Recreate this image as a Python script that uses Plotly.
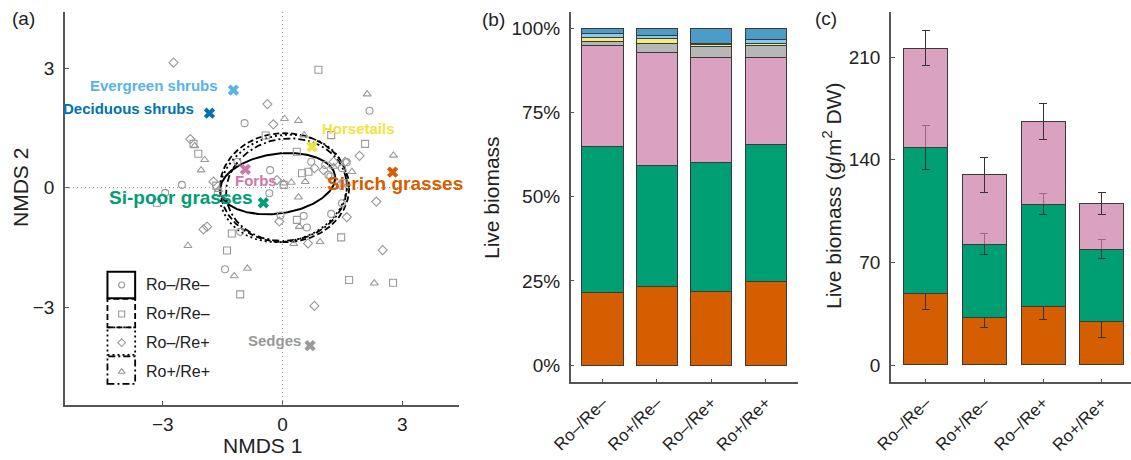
import numpy as np
import plotly.graph_objects as go

FONT = "Liberation Sans, Arial, Helvetica, sans-serif"
AXIS_COLOR = "#555555"
TEXT_COLOR = "#222222"

# ---------------- (a) NMDS ordination ----------------
species = ["Evergreen shrubs", "Deciduous shrubs", "Horsetails", "Si-rich grasses",
           "Forbs", "Si-poor grasses", "Sedges"]
species_x = [-1.23, -1.83, 0.74, 2.76, -0.93, -0.48, 0.69]
species_y = [2.45, 1.87, 1.03, 0.39, 0.46, -0.38, -3.97]
species_colors = ["#56B4E9", "#0072B2", "#F0E442", "#D55E00", "#CC79A7", "#009E73", "#999999"]

treatments = ["Ro\u2013/Re\u2013", "Ro+/Re\u2013", "Ro\u2013/Re+", "Ro+/Re+"]
treatment_symbols = ["circle-open", "square-open", "diamond-open", "triangle-up-open"]
treatment_dash = ["solid", "6px,3px", "2px,3px", "7px,3px,2px,3px"]

# plot scores per treatment
ro0re0_x = [2.18, -0.95, -2.52, -2.94, -0.31, -0.33, 0.72, 1.07, 1.15, 1.49, 1.61, 1.20,
            0.53, 0.61, 1.22, 1.49, -1.06, -1.44, -1.13, -0.05]
ro0re0_y = [1.93, 1.62, 0.07, -0.13, 0.44, -0.14, 0.65, 0.57, 0.32, 0.49, 0.64, 0.28,
            -0.71, -1.00, -0.66, -0.39, -1.11, -2.05, 0.65, -0.70]
ro1re0_x = [0.90, -2.23, -2.11, -0.42, 1.22, 2.07, -3.15, 0.03, 0.36, 0.49, 0.65, 0.36,
            1.53, 1.47, -1.66, -1.62, -1.27, -1.39, -1.06, 1.67, 2.77]
ro1re0_y = [2.96, 1.10, 0.85, 1.31, 1.32, 1.10, -0.38, 0.07, 0.90, 0.36, 0.40, -0.81,
            0.11, -1.25, 0.05, -0.12, -1.15, -1.58, -2.68, -2.32, -2.39]
ro0re1_x = [-2.73, -0.38, -0.23, -2.31, 1.93, 2.35, -1.73, -0.14, 0.80, 1.03, 1.57, 1.28,
            1.45, -0.08, 1.61, -1.89, -1.98, 0.64, 2.51, 0.80]
ro0re1_y = [3.14, 2.10, 1.59, 1.22, 0.80, -0.35, 0.15, 0.19, 0.49, 0.44, 0.65, 0.65,
            0.07, -0.85, -0.74, -0.98, -1.05, -1.40, -1.57, -2.97]
ro1re1_x = [2.12, 0.05, 0.40, -2.20, -1.95, -2.04, 0.54, 2.78, 0.22, 0.40, 0.57, 1.28,
            1.74, 0.03, 0.42, 0.28, 0.94, -2.37, -1.21, -0.88, 2.30, -1.60]
ro1re1_y = [2.35, 1.73, 1.68, 1.05, 0.70, 0.44, 1.32, 0.81, 0.13, -0.24, 0.15, 0.53,
            0.40, 0.11, -0.98, -1.41, -1.36, -1.46, -2.22, -2.03, -2.40, -0.05]
site_x = [ro0re0_x, ro1re0_x, ro0re1_x, ro1re1_x]
site_y = [ro0re0_y, ro1re0_y, ro0re1_y, ro1re1_y]

# dispersion ellipses: centre x, centre y, semi-axis a, semi-axis b, rotation (deg)
ell_cx = [-0.12, 0.05, 0.02, 0.10]
ell_cy = [0.10, 0.00, -0.02, -0.05]
ell_a = [1.45, 1.62, 1.62, 1.52]
ell_b = [0.75, 1.37, 1.33, 1.28]
ell_ang = [8, 0, 15, 10]

# ---------------- (b) and (c) biomass ----------------
groups = ["Si-rich grasses", "Si-poor grasses", "Forbs", "Sedges", "Horsetails",
          "Evergreen shrubs", "Deciduous shrubs"]
group_colors = ["#D55E00", "#009E73", "rgba(204,121,167,0.7)", "rgba(153,153,153,0.7)",
                "rgba(240,228,66,0.7)", "rgba(86,180,233,0.7)", "rgba(0,114,178,0.7)"]
# relative biomass (%), one list per group, one value per treatment
rel_si_rich = [21.6, 23.3, 21.9, 24.7]
rel_si_poor = [43.4, 36.1, 38.3, 40.9]
rel_forbs = [29.9, 33.5, 31.1, 25.7]
rel_sedges = [1.2, 2.6, 3.5, 3.7]
rel_horsetails = [1.2, 1.5, 0.6, 0.7]
rel_evergreen = [1.2, 1.0, 0.1, 1.0]
rel_deciduous = [1.5, 2.0, 4.5, 3.3]
rel_values = [rel_si_rich, rel_si_poor, rel_forbs, rel_sedges, rel_horsetails,
              rel_evergreen, rel_deciduous]
pct_ticks = [0, 25, 50, 75, 100]
pct_labels = ["0%", "25%", "50%", "75%", "100%"]

# absolute biomass (g/m2 DW) with standard errors
abs_si_rich = [49.1, 32.5, 39.6, 30.0]
abs_si_rich_se = [11.0, 7.0, 8.3, 11.2]
abs_si_poor = [99.1, 50.0, 70.2, 49.1]
abs_si_poor_se = [15.0, 7.0, 7.0, 6.4]
abs_forbs = [68.0, 47.3, 56.0, 30.9]
abs_forbs_se = [12.0, 12.0, 12.3, 7.4]
abs_values = [abs_si_rich, abs_si_poor, abs_forbs]
abs_errors = [abs_si_rich_se, abs_si_poor_se, abs_forbs_se]
abs_ticks = [0, 70, 140, 210]

fig = go.Figure()

# ellipses
t = np.linspace(0, 2 * np.pi, 240)
for i in range(4):
    th = np.deg2rad(ell_ang[i])
    ex = ell_cx[i] + ell_a[i] * np.cos(t) * np.cos(th) - ell_b[i] * np.sin(t) * np.sin(th)
    ey = ell_cy[i] + ell_a[i] * np.cos(t) * np.sin(th) + ell_b[i] * np.sin(t) * np.cos(th)
    fig.add_trace(go.Scatter(x=ex, y=ey, mode="lines", xaxis="x", yaxis="y",
                             line=dict(color="black", width=2 if i == 0 else 1.8,
                                       dash=treatment_dash[i]),
                             showlegend=False, hoverinfo="skip"))

# site scores
for i in range(4):
    fig.add_trace(go.Scatter(x=site_x[i], y=site_y[i], mode="markers", xaxis="x", yaxis="y",
                             marker=dict(symbol=treatment_symbols[i], size=7, color="#9a9a9a",
                                         line=dict(width=1.1, color="#9a9a9a")),
                             name=treatments[i], showlegend=False))

# species scores
fig.add_trace(go.Scatter(x=species_x, y=species_y, mode="markers", xaxis="x", yaxis="y",
                         marker=dict(symbol="x", size=10, color=species_colors,
                                     line=dict(width=0)),
                         showlegend=False))

# legend markers of panel (a)
leg_x = [-4.03] * 4
leg_y = [-2.445, -3.173, -3.894, -4.623]
for i in range(4):
    fig.add_trace(go.Scatter(x=[leg_x[i]], y=[leg_y[i]], mode="markers", xaxis="x", yaxis="y",
                             marker=dict(symbol=treatment_symbols[i], size=6, color="#9a9a9a",
                                         line=dict(width=1.1, color="#9a9a9a")),
                             showlegend=False, hoverinfo="skip"))

# ---------------- (b) stacked relative biomass ----------------
for g, vals, col in zip(groups, rel_values, group_colors):
    fig.add_trace(go.Bar(x=list(range(4)), y=vals, name=g, xaxis="x2", yaxis="y2",
                         marker=dict(color=col, line=dict(color="#3a3a3a", width=1)),
                         width=0.76, showlegend=False))

# ---------------- (c) stacked absolute biomass ----------------
for g, vals, err, col in zip(groups[:3], abs_values, abs_errors, group_colors[:3]):
    fig.add_trace(go.Bar(x=list(range(4)), y=vals, name=g, xaxis="x3", yaxis="y3",
                         marker=dict(color=col, line=dict(color="#3a3a3a", width=1)),
                         error_y=dict(type="data", array=err, color="#333333",
                                      thickness=1, width=4),
                         width=0.75, showlegend=False))

axis_common = dict(showline=True, linecolor=AXIS_COLOR, linewidth=1.5, mirror=False,
                   ticks="inside", ticklen=4, tickwidth=1.2, tickcolor=AXIS_COLOR,
                   showgrid=False, zeroline=False, automargin=False,
                   tickfont=dict(family=FONT, size=19, color=TEXT_COLOR))
rot_font = dict(family=FONT, size=17, color=TEXT_COLOR)

shapes = [
    dict(type="line", xref="x", yref="y domain", x0=0, x1=0, y0=0, y1=1,
         line=dict(color="#999999", width=1.2, dash="1px,3px")),
    dict(type="line", xref="x domain", yref="y", x0=0, x1=1, y0=0, y1=0,
         line=dict(color="#999999", width=1.2, dash="1px,3px")),
]
box_top = [-2.111, -2.795, -3.51, -4.24]
box_bot = [-2.779, -3.51, -4.20, -4.93]
for i in range(4):
    shapes.append(dict(type="rect", xref="x", yref="y", x0=-4.386, x1=-3.692,
                       y0=box_bot[i], y1=box_top[i],
                       line=dict(color="black", width=2 if i == 0 else 1.8,
                                 dash=treatment_dash[i]),
                       fillcolor="rgba(0,0,0,0)"))

annotations = []
label_x = [-1.56, -2.16, 0.93, 1.07, -1.24, -4.40, -0.91]
label_y = [2.555, 1.98, 1.475, 0.093, 0.19, -0.25, -3.83]
label_anchor = ["right", "right", "left", "left", "left", "left", "left"]
label_size = [15, 15, 15, 19, 15, 19, 15]
for i, s in enumerate(species):
    annotations.append(dict(x=label_x[i], y=label_y[i], xref="x", yref="y", text="<b>%s</b>" % s,
                            showarrow=False, xanchor=label_anchor[i], yanchor="middle",
                            font=dict(family=FONT, size=label_size[i], color=species_colors[i])))
for i, tr in enumerate(treatments):
    annotations.append(dict(x=-3.48, y=leg_y[i], xref="x", yref="y", text=tr, showarrow=False,
                            xanchor="left", yanchor="middle",
                            font=dict(family=FONT, size=16, color=TEXT_COLOR)))

W, H = 1131, 460


def px(xp):
    return xp / W


def py(yp):
    return 1 - yp / H


title_font = dict(family=FONT, size=21, color=TEXT_COLOR)
annotations += [
    dict(x=px(262), y=py(445), xref="paper", yref="paper", text="NMDS 1", showarrow=False,
         xanchor="center", yanchor="middle", font=title_font),
    dict(x=px(20), y=py(188), xref="paper", yref="paper", text="NMDS 2", showarrow=False,
         textangle=-90, xanchor="center", yanchor="middle", font=title_font),
    dict(x=px(492), y=py(198), xref="paper", yref="paper", text="Live biomass", showarrow=False,
         textangle=-90, xanchor="center", yanchor="middle", font=title_font),
    dict(x=px(832), y=py(196), xref="paper", yref="paper",
         text="Live biomass (g/m<sup>2</sup> DW)", showarrow=False,
         textangle=-90, xanchor="center", yanchor="middle", font=title_font),
    dict(x=px(10), y=py(18), xref="paper", yref="paper", text="(a)", showarrow=False,
         xanchor="left", yanchor="middle", font=dict(family=FONT, size=19, color=TEXT_COLOR)),
    dict(x=px(480), y=py(20), xref="paper", yref="paper", text="(b)", showarrow=False,
         xanchor="left", yanchor="middle", font=dict(family=FONT, size=19, color=TEXT_COLOR)),
    dict(x=px(813), y=py(18), xref="paper", yref="paper", text="(c)", showarrow=False,
         xanchor="left", yanchor="middle", font=dict(family=FONT, size=19, color=TEXT_COLOR)),
]

fig.update_layout(
    width=W, height=H,
    margin=dict(l=0, r=0, t=0, b=0),
    paper_bgcolor="white", plot_bgcolor="white",
    barmode="stack",
    xaxis=dict(axis_common, domain=[px(65), px(459.3)], range=[-5.45, 4.43],
               tickvals=[-3, 0, 3], anchor="y", ticklabelstandoff=1),
    yaxis=dict(axis_common, domain=[py(405), py(11.7)], range=[-5.46, 4.42],
               tickvals=[-3, 0, 3], anchor="x", ticklabelstandoff=5),
    xaxis2=dict(axis_common, domain=[px(570.7), px(798.3)], range=[-0.585, 3.6],
                tickvals=list(range(4)), ticktext=treatments, tickangle=-45, anchor="y2",
                ticklabelstandoff=2, tickfont=rot_font),
    yaxis2=dict(axis_common, domain=[py(382.3), py(11.7)], range=[-5.1, 105],
                tickvals=pct_ticks, ticktext=pct_labels, anchor="x2", ticklabelstandoff=5),
    xaxis3=dict(axis_common, domain=[px(891), 1.0], range=[-0.594, 3.5],
                tickvals=list(range(4)), ticktext=treatments, tickangle=-45, anchor="y3",
                ticklabelstandoff=2, tickfont=rot_font),
    yaxis3=dict(axis_common, domain=[py(382.3), py(11.7)], range=[-11.8, 241],
                tickvals=abs_ticks, anchor="x3", ticklabelstandoff=5),
    shapes=shapes,
    annotations=annotations,
    showlegend=False,
)

fig.write_html("out.html")
